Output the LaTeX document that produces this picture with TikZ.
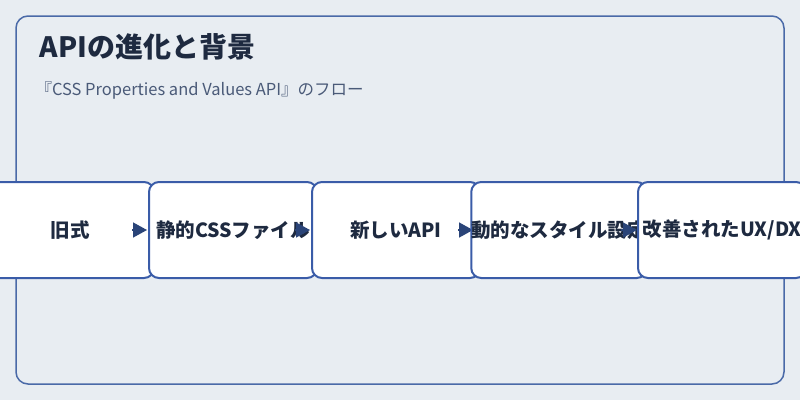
\documentclass[tikz,border=0pt]{standalone}
\usepackage{fontspec}
\setmainfont{Noto Sans CJK JP}
\usetikzlibrary{arrows.meta}
\definecolor{bg}{HTML}{E8EDF2}
\definecolor{frame}{HTML}{4A6AA8}
\definecolor{boxline}{HTML}{3A5CA8}
\definecolor{ink}{HTML}{1E2A40}
\definecolor{sub}{HTML}{4A5A78}
\definecolor{tip}{HTML}{2A4478}
\begin{document}
\begin{tikzpicture}[x=1pt,y=-1pt,
  stagebox/.style={draw=boxline,line width=2,fill=white,rounded corners=10,minimum width=168,minimum height=96,inner sep=0,font=\fontsize{19.5}{22}\selectfont\bfseries,text=ink},
  flow/.style={draw=tip,line width=1.5,-{Triangle[length=14,width=15]},shorten >=1}]
\useasboundingbox (0,0) rectangle (800,400);
\fill[bg] (0,0) rectangle (800,400);
\draw[frame,line width=1.5,rounded corners=12] (16,16) rectangle (784,384);
\node[anchor=west,font=\fontsize{28}{32}\selectfont\bfseries,text=ink] (title) at (36,47) {APIの進化と背景};
\node[anchor=west,font=\fontsize{16.5}{19}\selectfont,text=sub] (subt) at (32,90) {『CSS Properties and Values API』のフロー};
\begin{scope}
\clip (0,0) rectangle (800,400);
\node[stagebox] (b1) at (70,230) {旧式};
\coordinate (c2) at (132,230);
\coordinate (c3) at (295,230);
\coordinate (c4) at (458,230);
\coordinate (c5) at (621,230);
\draw[flow] (c2) -- (148,230);
\node[stagebox] (b2) at (233,230) {静的CSSファイル};
\draw[flow] (c3) -- (311,230);
\node[stagebox] (b3) at (396,230) {新しいAPI};
\draw[flow] (c4) -- (474,230);
\node[stagebox] (b4) at (559,230) {動的なスタイル設定};
\draw[flow] (c5) -- (638,230);
\node[stagebox] (b5) at (722,230) {改善されたUX/DX};
\end{scope}
\end{tikzpicture}
\end{document}
